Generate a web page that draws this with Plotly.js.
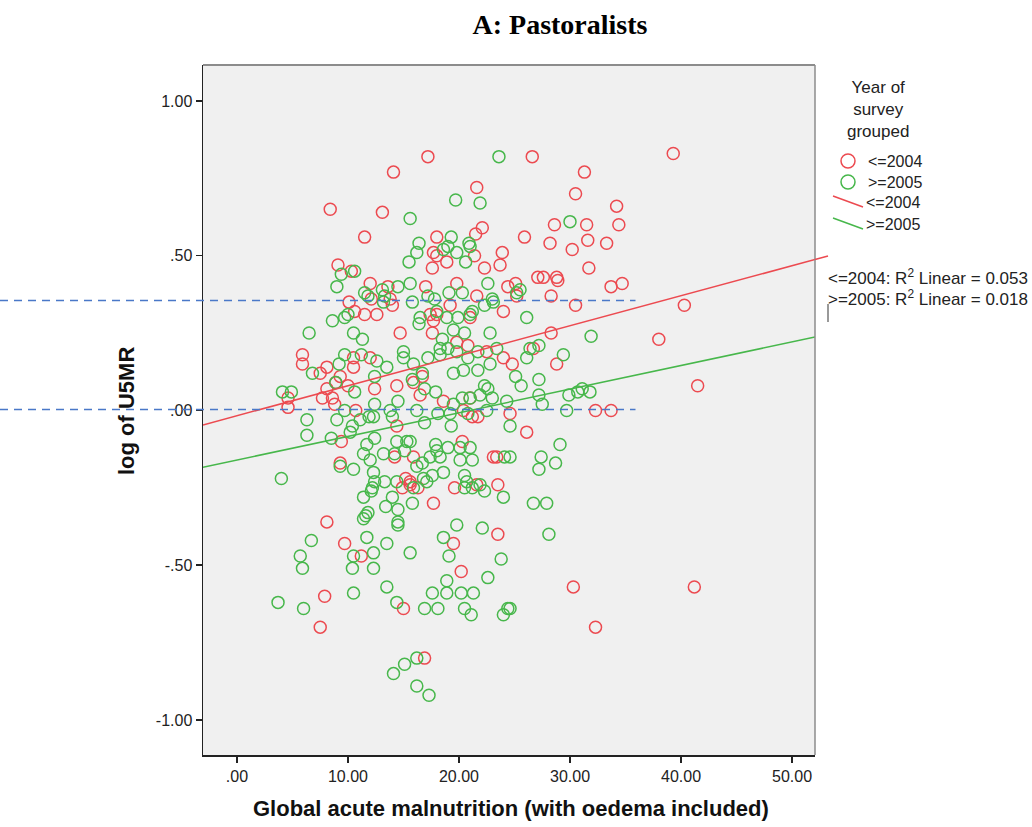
<!DOCTYPE html>
<html>
<head>
<meta charset="utf-8">
<script src="https://cdn.plot.ly/plotly-3.0.1.min.js"></script>
<style>html,body{margin:0;padding:0;background:#fff;}#chart{width:1032px;height:827px;}</style>
</head>
<body>
<div id="chart"></div>
<script>
// ---- Data ----
const groupNames = ['<=2004', '>=2005'];
const redX = [17.2,26.6,39.3,31.3,14.1,21.6,30.5,8.4,13.1,34.2,22.1,21.5,28.6,31.5,34.4,11.5,25.9,28.2,30.2,31.6,33.3,
  18.0,17.7,18.0,18.9,21.4,17.6,22.3,23.9,23.7,31.7,19.8,17.0,21.6,24.4,25.1,25.2,12.0,13.6,13.8,14.0,19.2,24.0,17.4,12.6,21.0,
  27.1,27.6,28.8,28.9,33.7,34.7,28.3,30.5,40.3,9.1,10.3,12.1,10.1,10.6,11.5,28.3,38.0,26.7,24.8,28.8,32.3,33.7,24.6,26.1,41.5,
  30.3,32.3,41.2,8.1,9.7,11.2,7.9,7.5,14.9,16.3,15.6,19.6,21.6,23.5,17.7,19.5,23.5,20.2,15.0,16.9,
  5.9,5.9,8.1,7.5,9.3,8.1,8.9,10.0,12.4,4.6,4.6,7.7,8.6,8.8,10.7,10.5,10.5,12.0,9.4,9.3,
  14.7,17.6,19.8,20.8,22.5,24.0,14.4,15.9,16.7,16.5,18.6,21.0,20.4,21.2,21.7,14.4,20.3,23.1,23.4,14.2,15.9,15.2,15.6,17.7,18.0];
const redY = [0.82,0.82,0.83,0.77,0.77,0.72,0.70,0.65,0.64,0.66,0.59,0.57,0.60,0.60,0.60,0.56,0.56,0.54,0.52,0.55,0.54,
  0.56,0.51,0.50,0.48,0.50,0.46,0.46,0.51,0.47,0.46,0.41,0.40,0.37,0.40,0.41,0.37,0.41,0.40,0.36,0.34,0.34,0.32,0.31,0.31,0.30,
  0.43,0.43,0.43,0.42,0.40,0.41,0.37,0.34,0.34,0.47,0.45,0.36,0.35,0.32,0.31,0.25,0.23,0.20,0.15,0.15,0.00,0.00,-0.01,-0.07,0.08,
  -0.57,-0.70,-0.57,-0.36,-0.43,-0.47,-0.60,-0.70,-0.25,-0.25,-0.24,-0.25,-0.24,-0.24,-0.30,-0.43,-0.40,-0.52,-0.64,-0.80,
  0.18,0.15,0.14,0.12,0.11,0.07,0.09,0.08,0.07,0.04,0.01,0.04,0.04,0.02,0.00,0.17,0.14,0.17,-0.10,-0.17,
  0.25,0.25,0.22,0.21,0.19,0.17,0.08,0.09,0.11,0.05,0.03,0.04,0.00,-0.02,-0.02,-0.05,-0.10,-0.15,-0.15,-0.15,-0.15,-0.22,-0.23,0.29,0.31];

const greenX = [23.6,19.7,21.9,15.6,16.4,19.3,20.9,21.0,19.0,18.6,19.8,16.2,15.5,20.6,15.6,14.5,13.1,22.6,17.2,19.1,20.3,23.0,23.1,22.3,
  13.3,13.2,15.8,17.8,18.0,21.2,16.5,18.9,19.9,25.2,10.6,9.4,9.0,11.5,11.8,10.0,8.6,9.7,30.0,25.5,26.1,31.9,27.2,26.4,26.1,29.4,
  25.1,25.6,27.2,27.2,27.5,29.9,30.7,31.1,31.8,29.7,24.6,29.1,27.4,28.7,27.2,24.6,26.7,27.9,28.1,24.6,
  4.0,12.1,11.4,11.4,11.8,11.6,11.7,6.7,5.7,5.9,10.5,10.4,12.3,12.3,10.5,3.7,6.0,
  13.3,14.0,13.4,14.5,14.5,14.5,15.8,13.5,15.6,19.8,22.1,18.6,19.1,23.8,22.6,18.9,17.6,18.9,20.2,21.3,13.5,14.4,16.9,18.1,20.5,21.1,24.4,24.0,
  16.2,15.1,14.1,16.2,17.3,22.3,24.0,20.5,21.2,15.9,17.1,
  6.5,10.5,11.3,9.7,11.2,12.6,9.2,6.8,12.4,4.1,4.9,8.9,10.6,12.4,6.3,9.0,9.7,11.1,10.4,10.2,6.3,8.5,11.9,12.3,11.7,12.4,11.4,12.0,9.3,10.5,12.3,12.2,
  16.4,21.0,22.8,20.5,19.5,18.5,15.0,15.0,18.3,18.3,17.2,19.0,19.8,20.8,21.7,23.4,15.9,13.5,16.7,19.5,20.4,21.7,22.8,15.8,16.9,17.9,
  22.3,22.6,23.0,21.9,20.3,21.0,24.3,19.5,14.5,13.8,14.0,16.2,18.1,19.2,20.8,22.5,16.9,19.3,14.4,15.3,15.6,13.2,14.2,15.1,
  17.9,18.0,19.0,20.1,21.0,18.3,17.4,16.7,16.2,20.1,21.2,24.1,12.4,16.8,17.6,18.6,20.5,20.7,21.9,14.4];
const greenY = [0.82,0.68,0.67,0.62,0.54,0.56,0.54,0.53,0.53,0.52,0.51,0.51,0.48,0.48,0.41,0.40,0.39,0.41,0.37,0.38,0.38,0.36,0.35,0.34,
  0.37,0.35,0.35,0.36,0.32,0.32,0.30,0.30,0.30,0.38,0.45,0.44,0.40,0.38,0.37,0.31,0.29,0.30,0.61,0.39,0.30,0.24,0.21,0.20,0.17,0.18,
  0.11,0.08,0.10,0.05,0.02,0.05,0.06,0.07,0.06,0.00,-0.05,-0.11,-0.15,-0.17,-0.19,-0.15,-0.30,-0.30,-0.40,-0.64,
  -0.22,-0.26,-0.28,-0.35,-0.33,-0.34,-0.41,-0.42,-0.47,-0.51,-0.47,-0.51,-0.46,-0.51,-0.59,-0.62,-0.64,
  -0.23,-0.28,-0.31,-0.32,-0.36,-0.37,-0.30,-0.43,-0.46,-0.37,-0.38,-0.41,-0.47,-0.48,-0.54,-0.55,-0.59,-0.59,-0.59,-0.59,-0.57,-0.62,-0.64,-0.64,-0.64,-0.66,-0.64,-0.66,
  -0.80,-0.82,-0.85,-0.89,-0.92,-0.26,-0.28,-0.25,-0.25,-0.25,-0.23,
  0.25,0.25,0.23,0.18,0.18,0.16,0.15,0.12,0.11,0.06,0.06,0.09,0.06,0.02,-0.03,-0.03,0.00,-0.03,-0.05,-0.07,-0.08,-0.09,-0.02,-0.02,-0.11,-0.09,-0.14,-0.16,-0.18,-0.19,-0.20,-0.25,
  0.28,0.31,0.25,0.25,0.26,0.23,0.19,0.17,0.20,0.18,0.17,0.20,0.19,0.17,0.19,0.20,0.15,0.14,0.12,0.12,0.13,0.13,0.15,0.10,0.07,0.06,
  0.08,0.07,0.04,0.05,0.04,0.04,0.03,0.02,0.03,0.00,-0.02,0.00,-0.01,-0.01,-0.01,0.00,-0.04,-0.05,-0.10,-0.10,-0.10,-0.14,-0.14,-0.13,
  -0.11,-0.13,-0.12,-0.12,-0.12,-0.15,-0.15,-0.17,-0.18,-0.16,-0.16,-0.15,-0.23,-0.22,-0.21,-0.20,-0.21,-0.23,-0.24,-0.23];

// Linear fit lines (intercept, slope) and R² as shown in the picture
const fitIntercepts = [-0.017, -0.160];
const fitSlopes = [0.00969, 0.00763];
const r2Values = ['0.053', '0.018'];
// Reference dashed lines drawn by the author
const refLineY = [0.355, 0.003];
const refLineXEnd = 35.9;

const xTickVals = [0, 10, 20, 30, 40, 50];
const xTickText = ['.00', '10.00', '20.00', '30.00', '40.00', '50.00'];
const yTickVals = [1, 0.5, 0, -0.5, -1];
const yTickText = ['1.00', '.50', '.00', '-.50', '-1.00'];

// ---- Styling ----
const RED = '#EC4A50';
const GREEN = '#47B74B';
const BLUE = '#4A78C8';
const SANS = 'Liberation Sans, Arial, sans-serif';
const xRange = [-3.06, 52.07];
const yRange = [-1.113, 1.116];

// pixel helpers for layout-only items (legend etc.)
const L = 203, R = 815, T = 65, B = 755;
const px = x => (x - L) / (R - L);
const py = y => (B - y) / (B - T);
const dx = v => (v - xRange[0]) / (xRange[1] - xRange[0]);
const dy = v => (v - yRange[0]) / (yRange[1] - yRange[0]);

const fitX = [xRange[0], xRange[1]];
const traces = [
  {x: redX, y: redY, type: 'scatter', mode: 'markers', name: groupNames[0], showlegend: false,
   marker: {symbol: 'circle-open', size: 12, color: RED, line: {width: 1.5}}},
  {x: greenX, y: greenY, type: 'scatter', mode: 'markers', name: groupNames[1], showlegend: false,
   marker: {symbol: 'circle-open', size: 12, color: GREEN, line: {width: 1.5}}},
  {x: fitX, y: fitX.map(v => fitIntercepts[0] + fitSlopes[0] * v), type: 'scatter', mode: 'lines', showlegend: false,
   line: {color: RED, width: 1.5}, hoverinfo: 'skip'},
  {x: fitX, y: fitX.map(v => fitIntercepts[1] + fitSlopes[1] * v), type: 'scatter', mode: 'lines', showlegend: false,
   line: {color: GREEN, width: 1.5}, hoverinfo: 'skip'}
];

const shapes = [];
// reference dashed lines extending left past the axis
refLineY.forEach(v => shapes.push({type: 'line', xref: 'paper', yref: 'paper', x0: px(0), x1: dx(refLineXEnd), y0: dy(v), y1: dy(v),
  line: {color: BLUE, width: 1.5, dash: '8px,6px'}}));
// top & right frame lines (gray)
shapes.push({type: 'line', xref: 'paper', yref: 'paper', x0: 0, x1: 1, y0: 1, y1: 1, line: {color: '#8c8c8c', width: 2}});
shapes.push({type: 'line', xref: 'paper', yref: 'paper', x0: 1, x1: 1, y0: 0, y1: 1, line: {color: '#8c8c8c', width: 1.5}});
// red fit leader beyond plot edge to the R² label
(function(){
  const xEndData = xRange[1] + (828 - R) / (R - L) * (xRange[1] - xRange[0]);
  shapes.push({type: 'line', xref: 'paper', yref: 'paper', x0: 1, x1: px(828),
    y0: dy(fitIntercepts[0] + fitSlopes[0] * xRange[1]), y1: dy(fitIntercepts[0] + fitSlopes[0] * xEndData),
    line: {color: RED, width: 1.5}});
})();
shapes.push({type: 'line', xref: 'paper', yref: 'paper', x0: px(828), x1: px(828), y0: py(304), y1: py(322), line: {color: '#777', width: 1.5}});

// custom legend symbols
const legendRows = [161, 182, 202, 224];
shapes.push({type: 'circle', xref: 'paper', yref: 'paper', x0: px(841), x1: px(855), y0: py(legendRows[0] + 7), y1: py(legendRows[0] - 7), line: {color: RED, width: 1.5}});
shapes.push({type: 'circle', xref: 'paper', yref: 'paper', x0: px(841), x1: px(855), y0: py(legendRows[1] + 7), y1: py(legendRows[1] - 7), line: {color: GREEN, width: 1.5}});
shapes.push({type: 'line', xref: 'paper', yref: 'paper', x0: px(833), x1: px(863), y0: py(196), y1: py(207), line: {color: RED, width: 1.5}});
shapes.push({type: 'line', xref: 'paper', yref: 'paper', x0: px(833), x1: px(863), y0: py(218), y1: py(229), line: {color: GREEN, width: 1.5}});

const legFont = {family: SANS, size: 16, color: '#222'};
const r2Font = {family: SANS, size: 17, color: '#222'};
const annotations = [
  {xref: 'paper', yref: 'paper', x: px(878), y: py(110), xanchor: 'center', yanchor: 'middle', showarrow: false,
   text: 'Year of<br>survey<br>grouped', font: {family: SANS, size: 17, color: '#222'}, align: 'center'},
  {xref: 'paper', yref: 'paper', x: px(866), y: py(legendRows[0]), xanchor: 'left', yanchor: 'middle', showarrow: false, text: groupNames[0], font: legFont},
  {xref: 'paper', yref: 'paper', x: px(866), y: py(legendRows[1]), xanchor: 'left', yanchor: 'middle', showarrow: false, text: groupNames[1], font: legFont},
  {xref: 'paper', yref: 'paper', x: px(864), y: py(legendRows[2]), xanchor: 'left', yanchor: 'middle', showarrow: false, text: groupNames[0], font: legFont},
  {xref: 'paper', yref: 'paper', x: px(864), y: py(legendRows[3]), xanchor: 'left', yanchor: 'middle', showarrow: false, text: groupNames[1], font: legFont},
  {xref: 'paper', yref: 'paper', x: px(826), y: py(277), xanchor: 'left', yanchor: 'middle', showarrow: false,
   text: groupNames[0] + ': R<sup>2</sup> Linear = ' + r2Values[0], font: r2Font},
  {xref: 'paper', yref: 'paper', x: px(826), y: py(298), xanchor: 'left', yanchor: 'middle', showarrow: false,
   text: groupNames[1] + ': R<sup>2</sup> Linear = ' + r2Values[1], font: r2Font},
  {xref: 'paper', yref: 'paper', x: px(511), y: py(808), xanchor: 'center', yanchor: 'middle', showarrow: false,
   text: '<b>Global acute malnutrition (with oedema included)</b>', font: {family: SANS, size: 22, color: '#111'}},
  {xref: 'paper', yref: 'paper', x: px(127), y: py(411), xanchor: 'center', yanchor: 'middle', showarrow: false, textangle: -90,
   text: '<b>log of U5MR</b>', font: {family: SANS, size: 22, color: '#111'}}
];

const layout = {
  width: 1032, height: 827,
  margin: {l: L, r: 1032 - R, t: T, b: 827 - B, pad: 0},
  paper_bgcolor: '#ffffff',
  plot_bgcolor: '#f0f0f0',
  title: {text: '<b>A: Pastoralists</b>', font: {family: 'Liberation Serif, Times New Roman, serif', size: 28, color: '#000'},
    xref: 'container', yref: 'container', x: 560 / 1032, y: 1 - 24 / 827, xanchor: 'center', yanchor: 'middle'},
  xaxis: {range: xRange, tickvals: xTickVals, ticktext: xTickText, showgrid: false, zeroline: false,
    showline: true, linecolor: '#222', linewidth: 1.5, ticks: 'outside', ticklen: 6, tickwidth: 1.5, tickcolor: '#222',
    tickfont: {family: SANS, size: 16, color: '#222'}, fixedrange: true},
  yaxis: {range: yRange, tickvals: yTickVals, ticktext: yTickText, showgrid: false, zeroline: false,
    showline: true, linecolor: '#222', linewidth: 1.5, ticks: 'outside', ticklen: 6, tickwidth: 1.5, tickcolor: '#222',
    tickfont: {family: SANS, size: 16, color: '#222'}, fixedrange: true},
  shapes: shapes,
  annotations: annotations,
  showlegend: false
};

Plotly.newPlot('chart', traces, layout, {displayModeBar: false, staticPlot: true});
</script>
</body>
</html>
